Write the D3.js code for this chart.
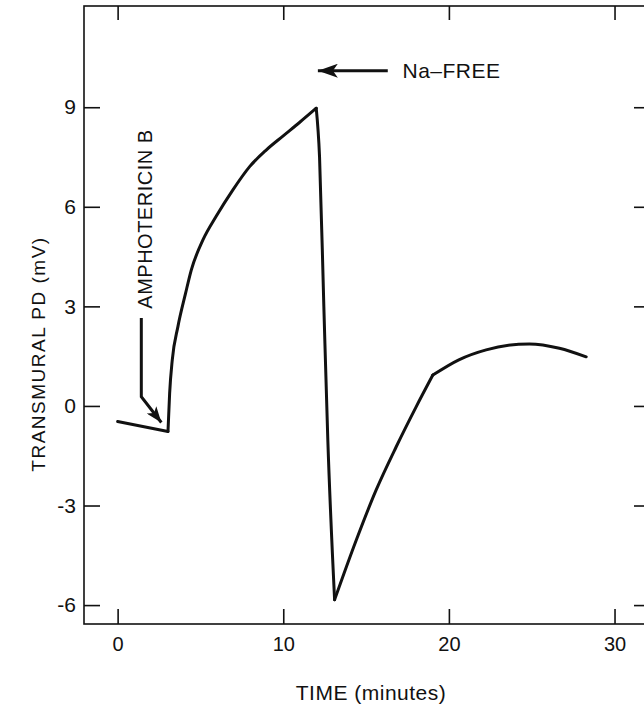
<!DOCTYPE html>
<html>
<head>
<meta charset="utf-8">
<script src="https://cdn.jsdelivr.net/npm/d3@7"></script>
<style>
  body { margin: 0; background: #fff; }
  text { font-family: "Liberation Sans", Arial, sans-serif; fill: #111; }
</style>
</head>
<body>
<script>
// time (minutes) and transmural PD (mV)
var timeMin = [0, 3.04, 3.14, 3.30, 3.64, 4.10, 4.45, 5.15, 5.96, 6.96, 7.97, 8.97, 9.98, 10.98, 11.99,
               12.19, 12.45, 12.69, 13.1, 14.41, 15.61, 16.82, 18.03, 19.03, 20.6, 22.25, 24.86, 26.67, 28.29];
var pdMv = [-0.47, -0.77, 0.38, 1.39, 2.39, 3.39, 4.10, 5.0, 5.72, 6.51, 7.21, 7.71, 8.13, 8.54, 8.97,
            7.51, 3.0, -1.02, -5.84, -4.04, -2.53, -1.23, -0.02, 0.93, 1.39, 1.69, 1.87, 1.74, 1.48];
// sharp corners of the trace (indexes into the arrays above)
var cornerIdx = [0, 1, 14, 18, 23, 28];

var xTicks = [0, 10, 20, 30];
var yTicks = [-6, -3, 0, 3, 6, 9];

var svgWidth = 644;
var svgHeight = 706;

// plot frame in pixels
var frame = { left: 84, right: 646, top: 6, bottom: 624 };

var svg = d3.select("body")
    .append("svg")
    .attr("width", svgWidth)
    .attr("height", svgHeight);

var x = d3.scaleLinear()
    .domain([-2.03, 31.9])
    .range([frame.left, frame.right]);

var y = d3.scaleLinear()
    .domain([-6.57, 12.05])
    .range([frame.bottom, frame.top]);

// frame
svg.append("rect")
    .attr("x", frame.left)
    .attr("y", frame.top)
    .attr("width", frame.right - frame.left)
    .attr("height", frame.bottom - frame.top)
    .attr("fill", "none")
    .attr("stroke", "#111")
    .attr("stroke-width", 1.6);

// axes, ticks pointing into the plot
var bottomAxis = d3.axisBottom(x).tickValues(xTicks).tickSize(-15).tickPadding(13);
var topAxis = d3.axisTop(x).tickValues(xTicks).tickSize(-14).tickFormat("");
var leftAxis = d3.axisLeft(y).tickValues(yTicks).tickSize(-16).tickPadding(8).tickFormat(d => d);
var rightAxis = d3.axisRight(y).tickValues(yTicks).tickSize(-12).tickFormat("");

var gb = svg.append("g").attr("transform", `translate(0, ${frame.bottom})`).call(bottomAxis);
var gt = svg.append("g").attr("transform", `translate(0, ${frame.top})`).call(topAxis);
var gl = svg.append("g").attr("transform", `translate(${frame.left}, 0)`).call(leftAxis);
var gr = svg.append("g").attr("transform", `translate(${frame.right}, 0)`).call(rightAxis);

[gb, gt, gl, gr].forEach(g => {
    g.select(".domain").remove();
    g.selectAll(".tick line").attr("stroke", "#111").attr("stroke-width", 1.6);
});

gb.selectAll(".tick text")
    .attr("font-size", "20px")
    .attr("fill", "#111")
    .attr("font-family", "Liberation Sans, Arial, sans-serif");

gl.selectAll(".tick text")
    .attr("font-size", "21px")
    .attr("fill", "#111")
    .attr("font-family", "Liberation Sans, Arial, sans-serif");

// axis titles
svg.append("text")
    .attr("x", 371)
    .attr("y", 700)
    .attr("text-anchor", "middle")
    .attr("font-size", "21px")
    .attr("letter-spacing", "0.5px")
    .text("TIME (minutes)");

svg.append("text")
    .attr("transform", "translate(45, 354) rotate(-90)")
    .attr("text-anchor", "middle")
    .attr("font-size", "19px")
    .attr("letter-spacing", "1.5px")
    .text("TRANSMURAL PD (mV)");

// the trace, smooth between its sharp corners
var line = d3.line()
    .x(d => x(d[0]))
    .y(d => y(d[1]))
    .curve(d3.curveMonotoneX);

var points = timeMin.map((t, i) => [t, pdMv[i]]);
var pieces = d3.pairs(cornerIdx).map(p => points.slice(p[0], p[1] + 1));

svg.selectAll(".trace")
    .data(pieces)
    .enter()
    .append("path")
    .attr("class", "trace")
    .attr("d", line)
    .attr("fill", "none")
    .attr("stroke", "#111")
    .attr("stroke-width", 3)
    .attr("stroke-linecap", "round");

// arrowheads
var defs = svg.append("defs");
defs.append("marker")
    .attr("id", "headBig")
    .attr("viewBox", "0 0 20 14")
    .attr("refX", 20).attr("refY", 7)
    .attr("markerWidth", 20).attr("markerHeight", 14)
    .attr("markerUnits", "userSpaceOnUse")
    .attr("orient", "auto")
    .append("path")
    .attr("d", "M0,0 L20,7 L0,14 L5,7 Z")
    .attr("fill", "#111");

defs.append("marker")
    .attr("id", "headSmall")
    .attr("viewBox", "0 0 16 12")
    .attr("refX", 16).attr("refY", 6)
    .attr("markerWidth", 16).attr("markerHeight", 12)
    .attr("markerUnits", "userSpaceOnUse")
    .attr("orient", "auto")
    .append("path")
    .attr("d", "M0,0 L16,6 L0,12 L4,6 Z")
    .attr("fill", "#111");

// Na-FREE annotation
svg.append("line")
    .attr("x1", x(16.31)).attr("y1", y(10.1))
    .attr("x2", x(12.09)).attr("y2", y(10.1))
    .attr("stroke", "#111")
    .attr("stroke-width", 3)
    .attr("marker-end", "url(#headBig)");

svg.append("text")
    .attr("x", x(17.2))
    .attr("y", y(9.88))
    .attr("font-size", "21px")
    .attr("letter-spacing", "0.5px")
    .text("Na\u2013FREE");

// Amphotericin B annotation
svg.append("path")
    .attr("d", d3.line()([[x(1.43), y(2.65)], [x(1.43), y(0.28)], [x(2.64), y(-0.5)]]))
    .attr("fill", "none")
    .attr("stroke", "#111")
    .attr("stroke-width", 3)
    .attr("marker-end", "url(#headSmall)");

svg.append("text")
    .attr("transform", `translate(${x(2.05)}, ${y(5.63)}) rotate(-90)`)
    .attr("text-anchor", "middle")
    .attr("font-size", "20px")
    .attr("letter-spacing", "0.5px")
    .text("AMPHOTERICIN B");
</script>
</body>
</html>
